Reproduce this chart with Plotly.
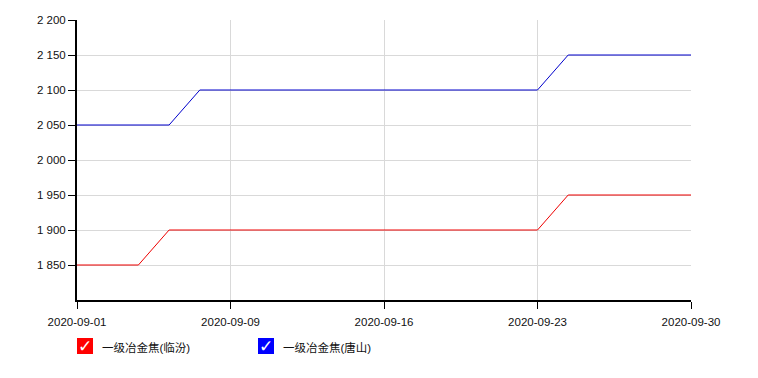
import plotly.graph_objects as go

dates = ["2020-09-01", "2020-09-02", "2020-09-03", "2020-09-04", "2020-09-07",
         "2020-09-09", "2020-09-10", "2020-09-11", "2020-09-14", "2020-09-15",
         "2020-09-16", "2020-09-17", "2020-09-18", "2020-09-21", "2020-09-22",
         "2020-09-23", "2020-09-24", "2020-09-25", "2020-09-28", "2020-09-29",
         "2020-09-30"]
linfen = [1850, 1850, 1850, 1900, 1900, 1900, 1900, 1900, 1900, 1900, 1900,
          1900, 1900, 1900, 1900, 1900, 1950, 1950, 1950, 1950, 1950]
tangshan = [2050, 2050, 2050, 2050, 2100, 2100, 2100, 2100, 2100, 2100, 2100,
            2100, 2100, 2100, 2100, 2100, 2150, 2150, 2150, 2150, 2150]
series_names = ["一级冶金焦(临汾)", "一级冶金焦(唐山)"]
series_colors = ["#ee0000", "#0000cc"]
legend_box_colors = ["#ff0000", "#0000ff"]
x_ticks = ["2020-09-01", "2020-09-09", "2020-09-16", "2020-09-23", "2020-09-30"]
y_ticks = [1850, 1900, 1950, 2000, 2050, 2100, 2150, 2200]

fig = go.Figure()
for name, vals, col in zip(series_names, [linfen, tangshan], series_colors):
    fig.add_trace(go.Scatter(x=dates, y=vals, mode="lines", name=name,
                             line=dict(color=col, width=1), showlegend=False))

W, H = 758, 378
L, R, T, B = 77, 67, 20, 78
pw, ph = W - L - R, H - T - B

def px(x):
    return (x - L) / pw

def py(y):
    return (H - B - y) / ph

shapes = []
annotations = []
legend_x = [77, 258]
for i, (name, col) in enumerate(zip(series_names, legend_box_colors)):
    x0 = legend_x[i]
    shapes.append(dict(type="rect", xref="paper", yref="paper",
                       x0=px(x0), x1=px(x0 + 16), y0=py(354), y1=py(338),
                       fillcolor=col, line=dict(width=0)))
    annotations.append(dict(xref="paper", yref="paper", x=px(x0 + 8), y=py(346),
                            text="✓", showarrow=False, xanchor="center", yanchor="middle",
                            font=dict(color="white", size=17, family="DejaVu Sans")))
    annotations.append(dict(xref="paper", yref="paper", x=px(x0 + 23), y=py(347),
                            text=name, showarrow=False, xanchor="left", yanchor="middle",
                            font=dict(color="#111", size=11.5,
                                      family="Liberation Sans, Noto Sans CJK SC")))

tickfont = dict(family="Liberation Sans, Arial, sans-serif", size=11.5, color="#111")

fig.update_layout(
    width=W, height=H,
    margin=dict(l=L, r=R, t=T, b=B),
    plot_bgcolor="white", paper_bgcolor="white",
    separators=". ",
    font=dict(family="Liberation Sans, Arial, sans-serif", size=11.5, color="#111"),
    shapes=shapes, annotations=annotations,
    xaxis=dict(type="category", range=[0, len(dates) - 1],
               tickmode="array", tickvals=x_ticks, ticktext=x_ticks,
               tickfont=tickfont, ticklabelstandoff=3,
               showgrid=True, gridcolor="#d9d9d9", gridwidth=1,
               showline=True, linecolor="black", linewidth=2,
               ticks="outside", ticklen=7, tickcolor="black", tickwidth=1,
               zeroline=False),
    yaxis=dict(range=[1800, 2200], tickmode="array", tickvals=y_ticks,
               tickformat=",d", tickfont=tickfont,
               showgrid=True, gridcolor="#d9d9d9", gridwidth=1,
               showline=True, linecolor="black", linewidth=2,
               ticks="outside", ticklen=7, tickcolor="black", tickwidth=1,
               zeroline=False),
)

fig.write_html("out.html")
